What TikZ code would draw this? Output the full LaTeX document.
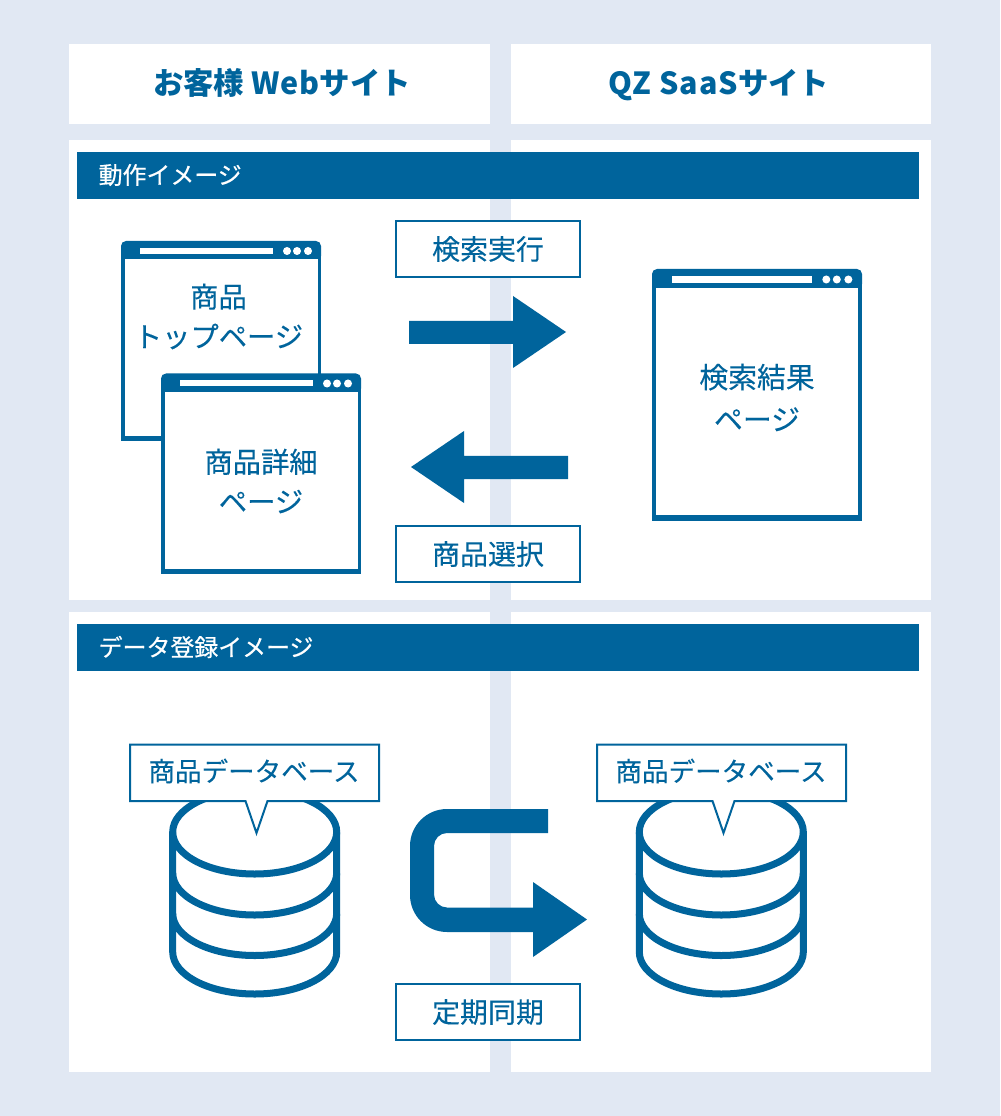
\documentclass[tikz,border=0pt]{standalone}
\usepackage{fontspec}
\setmainfont{Noto Sans CJK JP}
\newfontfamily\medfont[FakeBold=0.2]{Noto Sans CJK JP}
\newfontfamily\bandfont[FakeBold=0.6]{Noto Sans CJK JP}
\newfontfamily\headlatin[LetterSpace=3]{Noto Sans CJK JP}
\usetikzlibrary{positioning}
\definecolor{pageblue}{HTML}{E1E8F3}
\definecolor{mainblue}{HTML}{00649C}
\tikzset{
  x=0.01cm,y=-0.01cm,
  panel/.style={fill=white,draw=none},
  bandbox/.style={fill=mainblue,draw=none},
  tagbox/.style={draw=mainblue,fill=white,line width=0.02cm,minimum width=1.84cm,minimum height=0.56cm,text=mainblue,font=\medfont\fontsize{7.95}{9}\selectfont,inner sep=0pt},
  headtext/.style={text=mainblue,text height=0.26cm,text depth=0.05cm,inner sep=0pt,font=\fontsize{8.65}{10}\selectfont\bfseries},
  bandtext/.style={text=white,anchor=west,inner sep=0pt,font=\bandfont\fontsize{6.8}{8}\selectfont},
  pagetext/.style={text=mainblue,align=center,font=\medfont\fontsize{8.05}{11.3}\selectfont},
  cylline/.style={draw=mainblue,line width=0.07cm,fill=white},
}
% browser window: x, y, width, height, scale of the bar
\newcommand{\pagewin}[5]{
  \fill[mainblue,rounded corners=0.05cm] (#1,#2) rectangle ++(#3,20);
  \fill[mainblue] (#1,#2+12) rectangle ++(#3,#4-12);
  \fill[white] (#1+3.5*#5,#2+18.5*#5) rectangle (#1+#3-3.5*#5,#2+#4-5*#5);
  \fill[white] (#1+19*#5,#2+7*#5) rectangle (#1+#3-48*#5,#2+13*#5);
  \foreach \dx in {-34,-24,-13} \fill[white] (#1+#3+\dx*#5,#2+10*#5) circle (0.04cm);
}
% database drum: center x, top y
\newcommand{\dbdrum}[2]{
  \filldraw[cylline] (#1-82,#2+42) -- (#1-82,#2+162) arc[x radius=82,y radius=-42,start angle=180,end angle=360] -- (#1+82,#2+42) arc[x radius=82,y radius=-42,start angle=0,end angle=180] -- cycle;
  \draw[cylline,fill=none] (#1-82,#2+42) arc[x radius=82,y radius=-42,start angle=180,end angle=360];
  \draw[cylline,fill=none] (#1-82,#2+83) arc[x radius=82,y radius=-42,start angle=180,end angle=360];
  \draw[cylline,fill=none] (#1-82,#2+123.5) arc[x radius=82,y radius=-42,start angle=180,end angle=360];
}
% speech label of a database
\newcommand{\dbtag}[3]{
  \filldraw[draw=mainblue,fill=white,line width=0.02cm] (#1,#2) -- ++(249,0) -- ++(0,56.5) -- ++(-111.5,0) -- ++(-11,32) -- ++(-11,-32) -- ++(-115.5,0) -- cycle;
  \node[text=mainblue,font=\medfont\fontsize{7.55}{9}\selectfont] (#3) at (#1+124,#2+26.5) {商品データベース};
}
\begin{document}
\begin{tikzpicture}
\fill[pageblue] (0,0) rectangle (1000,1116);
\useasboundingbox (0,0) rectangle (1000,1116);

%Head panels
\fill[panel] (69,44) rectangle (490,124);
\fill[panel] (511,44) rectangle (931,124);
\node[headtext] (headleft) at (282,84) {お客様 {\headlatin\bfseries Web}サイト};
\node[headtext] (headright) at (719,84) {{\headlatin\bfseries QZ SaaS}サイト};

%Upper panels
\fill[panel] (69,140) rectangle (490,600);
\fill[panel] (511,140) rectangle (931,600);
\fill[bandbox] (77,152) rectangle (919,199);
\node[bandtext] (bandmove) at (98,175) {動作イメージ};

%Lower panels
\fill[panel] (69,612) rectangle (490,1072);
\fill[panel] (511,612) rectangle (931,1072);
\fill[bandbox] (77,624) rectangle (919,671);
\node[bandtext] (banddata) at (98,647) {データ登録イメージ};

%Browser pages
\pagewin{121}{241}{200}{200}{1}
\node[pagetext] (pagetop) at (218.5,316.5) {商品\\トップページ};
\pagewin{161}{373.5}{200}{200}{1}
\node[pagetext] (pagedetail) at (261,481) {商品詳細\\ページ};
\pagewin{652}{269}{210}{251.5}{1.05}
\node[pagetext,font=\medfont\fontsize{8.2}{12}\selectfont] (pageresult) at (757,397.5) {検索結果\\ページ};

%Arrows of the upper panel
\fill[mainblue] (409,321) -- (513,321) -- (513,296) -- (566,332) -- (513,368) -- (513,344) -- (409,344) -- cycle;
\fill[mainblue] (568,456) -- (464,456) -- (464,431) -- (411,467) -- (464,503) -- (464,479) -- (568,479) -- cycle;
\node[tagbox] (tagsearch) at (488,249) {検索実行};
\node[tagbox] (tagselect) at (488,554) {商品選択};

%Databases
\dbdrum{254.7}{790}
\dbdrum{721.3}{790}
\dbtag{130}{744.5}{tagleft}
\dbtag{597}{744.5}{tagright}

%Sync arrow
\fill[mainblue] (548,809) -- (447,809) arc[radius=37,start angle=270,end angle=180] -- (410,895) arc[radius=37,start angle=180,end angle=90] -- (533,932) -- (533,957) -- (587,919.5) -- (533,882) -- (533,907.5) -- (447,907.5) arc[radius=13,start angle=90,end angle=180] -- (434,846) arc[radius=13,start angle=180,end angle=270] -- (548,833) -- cycle;
\node[tagbox] (tagsync) at (488,1012) {定期同期};
\end{tikzpicture}
\end{document}
